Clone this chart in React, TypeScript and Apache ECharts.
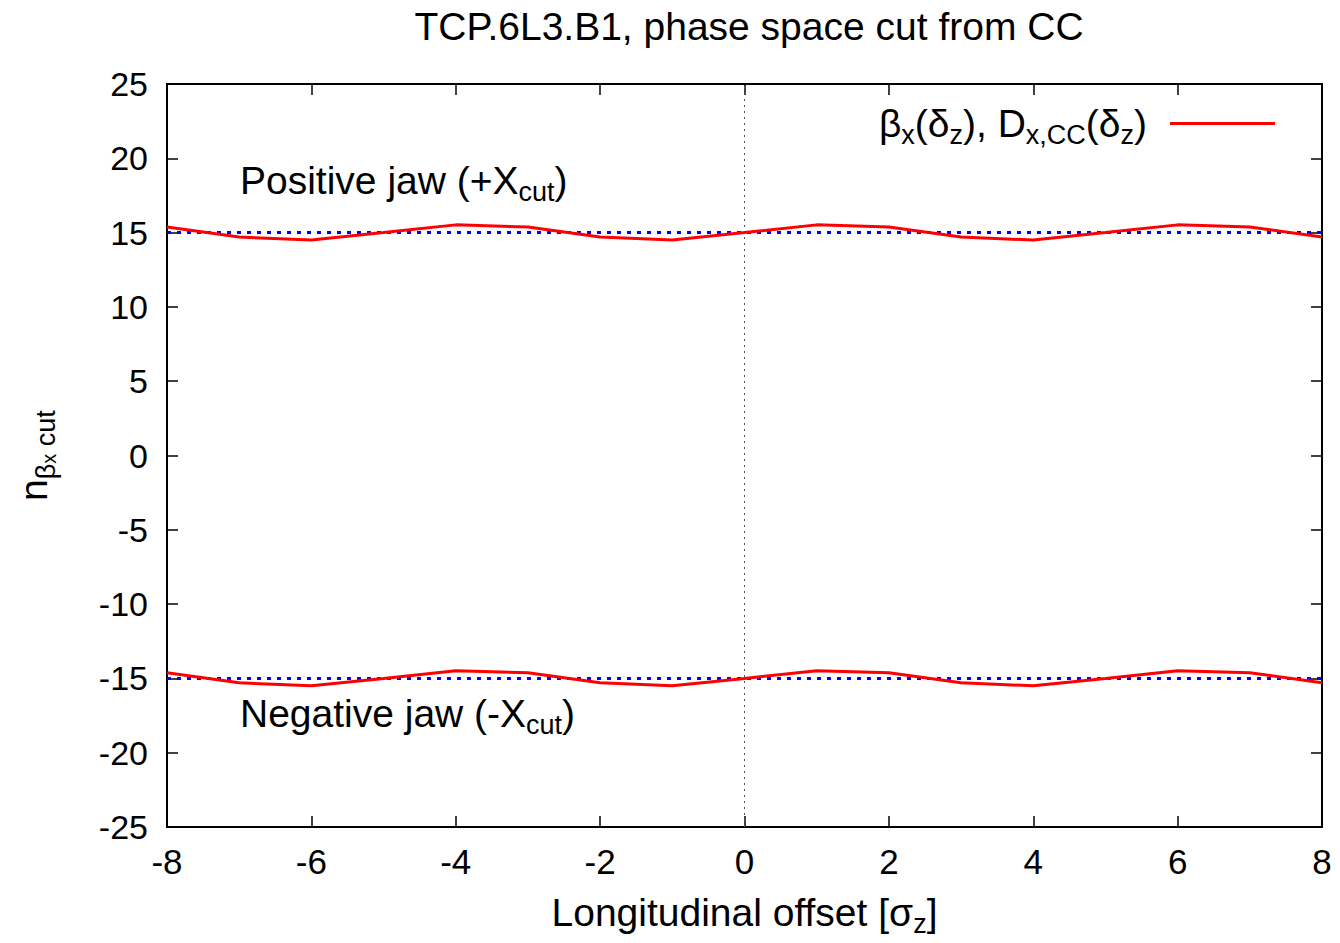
import React, { useEffect, useRef } from "react";
import * as echarts from "echarts";

const xs = [-8, -7, -6, -5, -4, -3, -2, -1, 0, 1, 2, 3, 4, 5, 6, 7, 8];
const upperJaw = [15.38, 14.7, 14.5, 15, 15.52, 15.38, 14.7, 14.5, 15, 15.52, 15.38, 14.7, 14.5, 15, 15.52, 15.38, 14.7];
const lowerJaw = [-14.62, -15.3, -15.5, -15, -14.48, -14.62, -15.3, -15.5, -15, -14.48, -14.62, -15.3, -15.5, -15, -14.48, -14.62, -15.3];
const nominalCut = [15, -15];
const xTicks = [-8, -6, -4, -2, 0, 2, 4, 6, 8];
const yTicks = [-25, -20, -15, -10, -5, 0, 5, 10, 15, 20, 25];

const FONT = "Liberation Sans, Arial, Helvetica, sans-serif";
const BIG = 39;
const SUB = 27;

export default function App() {
  const ref = useRef<HTMLDivElement>(null);
  useEffect(() => {
    if (!ref.current) return;
    const chart = echarts.init(ref.current, null, { renderer: "svg" });
    const pair = (ys: number[]) => xs.map((x, i) => [x, ys[i]]);
    const subRich = (size: number, big: number) => ({
      n: { fontSize: big, fontFamily: FONT, color: "#000", lineHeight: big * 1.3, verticalAlign: "middle" },
      s: { fontSize: size, fontFamily: FONT, color: "#000", lineHeight: size * 0.45, verticalAlign: "bottom" },
    });
    const axisCommon = {
      axisLine: { show: true, onZero: false, lineStyle: { color: "#000", width: 2 } },
      axisTick: { show: true, inside: true, length: 11, lineStyle: { color: "#000", width: 1.5 } },
      splitLine: { show: false },
    };
    chart.setOption({
      animation: false,
      backgroundColor: "#fff",
      title: {
        text: "TCP.6L3.B1, phase space cut from CC",
        left: 744,
        textAlign: "center",
        top: 2,
        textStyle: { fontSize: BIG, fontWeight: "normal", fontFamily: FONT, color: "#000" },
      },
      grid: { left: 167, right: 18, top: 84, bottom: 116, show: true, borderColor: "#000", borderWidth: 2 },
      legend: {
        data: ["beta"],
        right: 65,
        top: 104,
        padding: 0,
        icon: "rect",
        itemWidth: 105,
        itemHeight: 3,
        align: "right",
        formatter: () =>
          "{n|β}{s|x}{n|(δ}{s|z}{n|), D}{s|x,CC}{n|(δ}{s|z}{e|)}",
        textStyle: {
          rich: {
            ...subRich(SUB, BIG),
            e: { fontSize: BIG, fontFamily: FONT, color: "#000", lineHeight: BIG * 1.3, padding: [0, 18, 0, 0] },
          },
        },
      },
      xAxis: [
        {
          type: "value",
          min: -8,
          max: 8,
          interval: 2,
          position: "bottom",
          ...axisCommon,
          axisLabel: {
            margin: 17,
            fontSize: 35,
            fontFamily: FONT,
            color: "#000",
            formatter: (v: number) => (xTicks.includes(v) ? String(v) : ""),
          },
          name: "{n|Longitudinal offset [σ}{s|z}{n|]}",
          nameLocation: "middle",
          nameGap: 60,
          nameTextStyle: { rich: subRich(SUB, BIG) },
        },
        {
          type: "value",
          min: -8,
          max: 8,
          interval: 2,
          position: "top",
          ...axisCommon,
          axisLabel: { show: false },
        },
      ],
      yAxis: [
        {
          type: "value",
          min: -25,
          max: 25,
          interval: 5,
          position: "left",
          ...axisCommon,
          axisLabel: {
            margin: 19,
            fontSize: 34,
            fontFamily: FONT,
            color: "#000",
            formatter: (v: number) => (yTicks.includes(v) ? String(v) : ""),
          },
          name: "{n|n}{s|β}{ss|x}{s| cut}",
          nameLocation: "middle",
          nameRotate: 90,
          nameGap: 108,
          nameTextStyle: {
            rich: {
              ...subRich(SUB, BIG),
              ss: { fontSize: 20, fontFamily: FONT, color: "#000", lineHeight: 1, verticalAlign: "bottom" },
            },
          },
        },
        {
          type: "value",
          min: -25,
          max: 25,
          interval: 5,
          position: "right",
          ...axisCommon,
          axisLabel: { show: false },
        },
      ],
      graphic: [
        {
          type: "text",
          left: 240,
          top: 161,
          style: {
            text: "{n|Positive jaw (+X}{s|cut}{n|)}",
            rich: subRich(SUB, BIG),
          },
        },
        {
          type: "text",
          left: 240,
          top: 694,
          style: {
            text: "{n|Negative jaw (-X}{s|cut}{n|)}",
            rich: subRich(SUB, BIG),
          },
        },
      ],
      series: [
        {
          name: "zero",
          type: "line",
          data: [[0, -25], [0, 25]],
          symbol: "none",
          lineStyle: { color: "#555", width: 1, type: [2, 4] },
          silent: true,
        },
        {
          name: "nominal+",
          type: "line",
          data: [[xs[0], nominalCut[0]], [xs[xs.length - 1], nominalCut[0]]],
          symbol: "none",
          lineStyle: { color: "#0000ff", width: 3, type: [4, 6] },
        },
        {
          name: "nominal-",
          type: "line",
          data: [[xs[0], nominalCut[1]], [xs[xs.length - 1], nominalCut[1]]],
          symbol: "none",
          lineStyle: { color: "#0000ff", width: 3, type: [4, 6] },
        },
        {
          name: "beta",
          type: "line",
          data: pair(upperJaw),
          symbol: "none",
          color: "#ff0000",
          lineStyle: { color: "#ff0000", width: 3 },
        },
        {
          name: "betaNeg",
          type: "line",
          data: pair(lowerJaw),
          symbol: "none",
          color: "#ff0000",
          lineStyle: { color: "#ff0000", width: 3 },
        },
      ],
    });
    return () => chart.dispose();
  }, []);
  return (
    <div
      ref={ref}
      style={{ position: "fixed", left: 0, top: 0, width: 1340, height: 943, background: "#fff" }}
    />
  );
}
